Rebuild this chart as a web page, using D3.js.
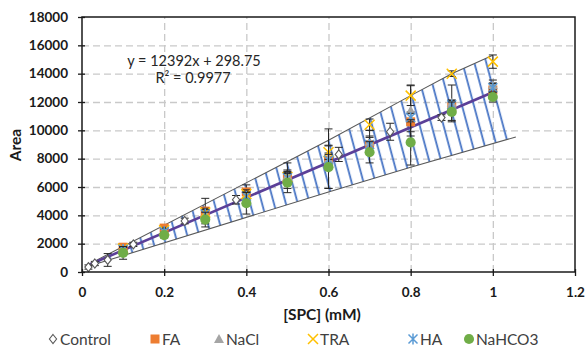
<!DOCTYPE html>
<html><head><meta charset="utf-8">
<script src="https://cdn.jsdelivr.net/npm/d3@7"></script>
<style>
html,body{margin:0;padding:0;background:#fff;}
svg{display:block;font-family:Lato,"Open Sans",sans-serif;}
</style></head>
<body><svg id="c" width="586" height="350"></svg>
<script>
// ---------------- data ----------------
const xTicks = [0, 0.2, 0.4, 0.6, 0.8, 1, 1.2];
const xTickLabels = ["0", "0.2", "0.4", "0.6", "0.8", "1", "1.2"];
const yTicks = [0, 2000, 4000, 6000, 8000, 10000, 12000, 14000, 16000, 18000];
const seriesNames = ["Control", "FA", "NaCl", "TRA", "HA", "NaHCO3"];

const controlX = [0.015625, 0.03125, 0.0625, 0.125, 0.25, 0.375, 0.5, 0.625, 0.75, 0.875, 1.0];
const controlY = [350, 600, 850, 1950, 3600, 5100, 6900, 8300, 9900, 10900, 12700];
const controlErr = [150, 150, 450, 150, 200, 300, 300, 500, 600, 200, 300];

const concX = [0.1, 0.2, 0.3, 0.4, 0.5, 0.6, 0.7, 0.8, 0.9, 1.0];
const faY = [1750, 3100, 4300, 5650, 6650, 7900, 9000, 10600, 11650, 12850];
const faErr = [200, 200, 900, 500, 400, 500, 600, 700, 500, 500];
const naclY = [1600, 2900, 4100, 5400, 6800, 8000, 9200, 11400, 11950, 13200];
const naclErr = [150, 200, 300, 300, 900, 2100, 800, 1800, 1250, 350];
const traY = [1650, 2950, 4200, 5500, 6700, 8450, 10400, 12450, 14000, 14850];
const traErr = [150, 200, 300, 300, 400, 500, 400, 700, 200, 470];
const haY = [1600, 2850, 4100, 5350, 6650, 7900, 9000, 10900, 11800, 13000];
const haErr = [150, 200, 300, 300, 300, 400, 500, 300, 300, 300];
const nahco3Y = [1350, 2600, 3700, 4850, 6300, 7400, 8450, 9150, 11300, 12350];
const nahco3Err = [450, 200, 520, 760, 700, 1500, 750, 1600, 700, 350];

const fitSlope = 12392, fitIntercept = 298.75;
const fitX = [0.015625, 1.0];
const equationText = "y = 12392x + 298.75";
const r2Text = "R² = 0.9977";

const bandUpperX = [0.01, 0.6, 0.8, 0.9, 1.0];
const bandUpperY = [450, 9300, 12450, 14000, 15300];
const bandLowerX = [0.01, 0.6, 0.8, 1.056];
const bandLowerY = [350, 5650, 7400, 9530];

// ---------------- drawing ----------------
const svg = d3.select("#c");
const L = 82, R = 575, T = 17, B = 272;
const x = d3.scaleLinear().domain([0, 1.2]).range([L, R]);
const y = d3.scaleLinear().domain([0, 18000]).range([B, T]);

const defs = svg.append("defs");
const pat = defs.append("pattern").attr("id", "hatch")
  .attr("patternUnits", "userSpaceOnUse").attr("width", 11.5).attr("height", 11.5)
  .attr("patternTransform", "rotate(-15)");
pat.append("line").attr("x1", 5).attr("y1", -2).attr("x2", 5).attr("y2", 14)
  .attr("stroke", "#4472C4").attr("stroke-width", 1.8);

// grid
const gridColor = "#c9c9c9";
svg.append("g").attr("transform", `translate(0,${B})`)
  .call(d3.axisBottom(x).tickValues(xTicks.slice(1, -1)).tickSize(-(B - T)).tickFormat(""))
  .call(g => g.select(".domain").remove())
  .selectAll("line").attr("stroke", gridColor).attr("stroke-width", 1.3).attr("stroke-dasharray", "7,4");
svg.append("g").attr("transform", `translate(${L},0)`)
  .call(d3.axisLeft(y).tickValues(yTicks.slice(1, -1)).tickSize(-(R - L)).tickFormat(""))
  .call(g => g.select(".domain").remove())
  .selectAll("line").attr("stroke", gridColor).attr("stroke-width", 1.3).attr("stroke-dasharray", "7,4");

// band
const upperPts = bandUpperX.map((v, i) => [x(v), y(bandUpperY[i])]);
const lowerPts = bandLowerX.map((v, i) => [x(v), y(bandLowerY[i])]);
const poly = upperPts.concat(lowerPts.slice().reverse());
svg.append("path").attr("d", "M" + poly.join("L") + "Z").attr("fill", "url(#hatch)");
const line = d3.line();
svg.append("path").attr("d", line(upperPts)).attr("fill", "none").attr("stroke", "#595959").attr("stroke-width", 1.1);
svg.append("path").attr("d", line(lowerPts)).attr("fill", "none").attr("stroke", "#595959").attr("stroke-width", 1.1);

// fit line
svg.append("path").attr("d", line(fitX.map(v => [x(v), y(fitSlope * v + fitIntercept)])))
  .attr("fill", "none").attr("stroke", "#5B3F98").attr("stroke-width", 2.6);

// markers
function markerPath(type, s) {
  const h = s / 2;
  switch (type) {
    case "diamond": return `M0,${-h}L${h * 0.8},0L0,${h}L${-h * 0.8},0Z`;
    case "square": return `M${-h},${-h}H${h}V${h}H${-h}Z`;
    case "triangle": return `M0,${-h}L${h},${h * 0.8}L${-h},${h * 0.8}Z`;
    case "x": return `M${-h},${-h}L${h},${h}M${h},${-h}L${-h},${h}`;
    case "asterisk": return `M${-h},${-h}L${h},${h}M${h},${-h}L${-h},${h}M0,${-h * 1.2}V${h * 1.2}`;
    case "circle": return d3.symbol(d3.symbolCircle, s * s * 0.8)();
  }
}
const styles = [
  {type: "diamond", fill: "#fff", stroke: "#595959", sw: 1.1, size: 9},
  {type: "square", fill: "#ED7D31", stroke: "none", sw: 0, size: 9},
  {type: "triangle", fill: "#A5A5A5", stroke: "none", sw: 0, size: 10},
  {type: "x", fill: "none", stroke: "#FFC000", sw: 1.5, size: 10},
  {type: "asterisk", fill: "none", stroke: "#5B9BD5", sw: 1.5, size: 9},
  {type: "circle", fill: "#70AD47", stroke: "none", sw: 0, size: 10}
];
const seriesData = [
  [controlX, controlY, controlErr],
  [concX, faY, faErr],
  [concX, naclY, naclErr],
  [concX, traY, traErr],
  [concX, haY, haErr],
  [concX, nahco3Y, nahco3Err]
];

seriesData.forEach((sd, si) => {
  const [xs, ys, es] = sd;
  const st = styles[si];
  const g = svg.append("g");
  xs.forEach((xv, i) => {
    const cx = x(xv), y1 = y(ys[i] + es[i]), y2 = y(ys[i] - es[i]);
    g.append("path").attr("d", `M${cx},${y1}V${y2}M${cx - 4},${y1}H${cx + 4}M${cx - 4},${y2}H${cx + 4}`)
      .attr("stroke", "#262626").attr("stroke-width", 1).attr("fill", "none");
  });
  xs.forEach((xv, i) => {
    g.append("path").attr("d", markerPath(st.type, st.size))
      .attr("transform", `translate(${x(xv)},${y(ys[i])})`)
      .attr("fill", st.fill).attr("stroke", st.stroke).attr("stroke-width", st.sw);
  });
});

// frame
svg.append("rect").attr("x", L).attr("y", T).attr("width", R - L).attr("height", B - T)
  .attr("fill", "none").attr("stroke", "#1a1a1a").attr("stroke-width", 1.5);

// axes
const xAxis = svg.append("g").attr("transform", `translate(0,${B})`)
  .call(d3.axisBottom(x).tickValues(xTicks).tickFormat((d, i) => xTickLabels[i]).tickSize(3));
xAxis.select(".domain").remove();
xAxis.selectAll(".tick line").attr("y1", -3).attr("y2", 4).attr("stroke", "#1a1a1a").attr("stroke-width", 1.3);
xAxis.selectAll("text").attr("y", 15).attr("dy", "0.71em").attr("font-size", 13.5).attr("font-weight", "bold")
  .attr("font-family", "Lato").attr("fill", "#1a1a1a");

const yAxis = svg.append("g").attr("transform", `translate(${L},0)`)
  .call(d3.axisLeft(y).tickValues(yTicks).tickFormat(d3.format("d")).tickSize(3));
yAxis.select(".domain").remove();
yAxis.selectAll(".tick line").attr("x1", 3).attr("x2", -4).attr("stroke", "#1a1a1a").attr("stroke-width", 1.3);
yAxis.selectAll("text").attr("x", -14).attr("font-size", 13.5).attr("font-weight", "bold")
  .attr("font-family", "Lato").attr("fill", "#1a1a1a");

// titles
svg.append("text").attr("x", 322).attr("y", 320).attr("text-anchor", "middle")
  .attr("font-size", 15.5).attr("font-weight", "bold").attr("fill", "#1a1a1a").text("[SPC] (mM)");
svg.append("text").attr("transform", "translate(21,145) rotate(-90)").attr("text-anchor", "middle")
  .attr("font-size", 15.5).attr("font-weight", "bold").attr("fill", "#1a1a1a").text("Area");

// equation
svg.append("text").attr("x", 194).attr("y", 66).attr("text-anchor", "middle")
  .attr("font-size", 14.5).attr("fill", "#262626").text(equationText);
svg.append("text").attr("x", 193).attr("y", 83).attr("text-anchor", "middle")
  .attr("font-size", 14.5).attr("fill", "#262626").text(r2Text);

// legend
const legendX = [53, 155, 219, 313, 413, 469];
const legY = 339;
seriesNames.forEach((nm, i) => {
  const st = styles[i];
  svg.append("path").attr("d", markerPath(st.type, st.size))
    .attr("transform", `translate(${legendX[i]},${legY})`)
    .attr("fill", st.fill).attr("stroke", st.stroke).attr("stroke-width", st.sw);
  svg.append("text").attr("x", legendX[i] + 7).attr("y", legY + 5.5)
    .attr("font-size", 15.5).attr("fill", "#404040").text(nm);
});
</script></body></html>
